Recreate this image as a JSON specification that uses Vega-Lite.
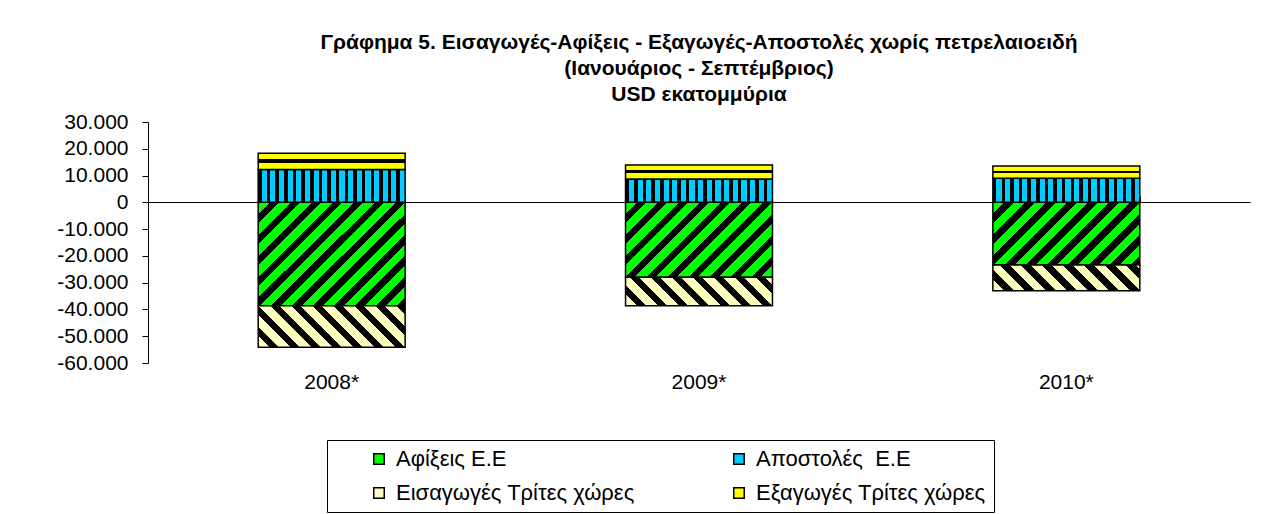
{
  "$schema": "https://vega.github.io/schema/vega-lite/v6.json",
  "autosize": "none",
  "width": 1102,
  "height": 241,
  "padding": {"left": 148, "top": 122, "right": 11, "bottom": 151},
  "background": "white",
  "title": {
    "text": ["Γράφημα 5. Εισαγωγές-Αφίξεις - Εξαγωγές-Αποστολές χωρίς πετρελαιοειδή", "(Ιανουάριος - Σεπτέμβριος)", "USD εκατομμύρια"],
    "font": "Liberation Sans", "fontSize": 21, "fontWeight": "bold", "color": "black",
    "anchor": "middle", "lineHeight": 26, "offset": 6
  },
  "config": {
    "font": "Liberation Sans",
    "view": {"stroke": null},
    "locale": {"number": {"decimal": ",", "thousands": ".", "grouping": [3], "currency": ["", ""], "minus": "-"}},
    "axisY": {"labelFontSize": 21, "labelColor": "black", "labelFont": "Liberation Sans", "tickColor": "black", "domainColor": "black", "tickSize": 6, "labelPadding": 14, "grid": false, "title": null, "format": ",d", "values": [-60000, -50000, -40000, -30000, -20000, -10000, 0, 10000, 20000, 30000]}
  },
  "data": {"values": [
    {"year": "2008*", "series": "Αφίξεις Ε.Ε", "value": -38600},
    {"year": "2008*", "series": "Αποστολές\u00a0 Ε.Ε", "value": 12300},
    {"year": "2008*", "series": "Εισαγωγές Τρίτες χώρες", "value": -15500},
    {"year": "2008*", "series": "Εξαγωγές Τρίτες χώρες", "value": 6000},
    {"year": "2009*", "series": "Αφίξεις Ε.Ε", "value": -28000},
    {"year": "2009*", "series": "Αποστολές\u00a0 Ε.Ε", "value": 8700},
    {"year": "2009*", "series": "Εισαγωγές Τρίτες χώρες", "value": -10600},
    {"year": "2009*", "series": "Εξαγωγές Τρίτες χώρες", "value": 5200},
    {"year": "2010*", "series": "Αφίξεις Ε.Ε", "value": -23400},
    {"year": "2010*", "series": "Αποστολές\u00a0 Ε.Ε", "value": 8950},
    {"year": "2010*", "series": "Εισαγωγές Τρίτες χώρες", "value": -9600},
    {"year": "2010*", "series": "Εξαγωγές Τρίτες χώρες", "value": 4600}
  ]},
  "resolve": {"axis": {"x": "independent"}},
  "layer": [
    {
      "mark": {"type": "bar"},
      "encoding": {
        "x": {"field": "year", "type": "nominal", "scale": {"paddingInner": 0.6, "paddingOuter": 0.3},
              "axis": {"orient": "bottom", "domain": false, "ticks": false, "labelAngle": 0, "labelFontSize": 21, "labelColor": "black", "labelPadding": 8, "title": null}},
        "y": {"field": "value", "type": "quantitative", "stack": "zero", "scale": {"domain": [-60000, 30000], "nice": false}},
        "color": {"field": "series", "type": "nominal",
          "scale": {"domain": ["Αφίξεις Ε.Ε", "Εισαγωγές Τρίτες χώρες", "Αποστολές\u00a0 Ε.Ε", "Εξαγωγές Τρίτες χώρες"], "range": ["#00ff00", "#ffffc0", "#00ccff", "#ffff00"]},
          "legend": {"orient": "none", "legendX": 179, "legendY": 318, "columns": 2, "title": "\u00a0", "titleOrient": "left", "titlePadding": 33, "titleFontSize": 10,
                     "strokeColor": "black", "padding": 8,
                     "labelFontSize": 22, "labelColor": "black", "labelFont": "Liberation Sans", "labelLimit": 500, "labelOffset": 6,
                     "symbolType": "square", "symbolSize": 110, "symbolStrokeColor": "black", "symbolStrokeWidth": 1.5, "symbolOpacity": 1,
                     "rowPadding": 12, "columnPadding": 93}},
        "order": {"field": "series", "sort": "ascending"}
      }
    },
    {
      "mark": {"type": "bar", "stroke": "black", "strokeWidth": 1.5},
      "encoding": {
        "x": {"field": "year", "type": "nominal",
              "axis": {"orient": "top", "offset": -80, "labels": false, "ticks": true, "tickBand": "extent", "tickSize": 6, "tickColor": "black", "domain": true, "domainColor": "black", "title": null}},
        "y": {"field": "value", "type": "quantitative", "stack": "zero"},
        "detail": {"field": "series", "type": "nominal"},
        "order": {"field": "series", "sort": "ascending"},
        "fill": {
          "condition": [
            {"test": "datum.series === 'Αφίξεις Ε.Ε' && datum.year === '2008*'", "value": {"gradient": "linear", "x1": 0, "y1": 0, "x2": 1.3374, "y2": 0.9413, "stops": [
{"offset":0,"color":"#00ff00"},{"offset":0.0393,"color":"#00ff00"},{"offset":0.0393,"color":"#000"},{"offset":0.0714,"color":"#000"},
{"offset":0.0714,"color":"#00ff00"},{"offset":0.1107,"color":"#00ff00"},{"offset":0.1107,"color":"#000"},{"offset":0.1429,"color":"#000"},
{"offset":0.1429,"color":"#00ff00"},{"offset":0.1821,"color":"#00ff00"},{"offset":0.1821,"color":"#000"},{"offset":0.2143,"color":"#000"},
{"offset":0.2143,"color":"#00ff00"},{"offset":0.2536,"color":"#00ff00"},{"offset":0.2536,"color":"#000"},{"offset":0.2857,"color":"#000"},
{"offset":0.2857,"color":"#00ff00"},{"offset":0.325,"color":"#00ff00"},{"offset":0.325,"color":"#000"},{"offset":0.3571,"color":"#000"},
{"offset":0.3571,"color":"#00ff00"},{"offset":0.3964,"color":"#00ff00"},{"offset":0.3964,"color":"#000"},{"offset":0.4286,"color":"#000"},
{"offset":0.4286,"color":"#00ff00"},{"offset":0.4679,"color":"#00ff00"},{"offset":0.4679,"color":"#000"},{"offset":0.5,"color":"#000"},
{"offset":0.5,"color":"#00ff00"},{"offset":0.5393,"color":"#00ff00"},{"offset":0.5393,"color":"#000"},{"offset":0.5714,"color":"#000"},
{"offset":0.5714,"color":"#00ff00"},{"offset":0.6107,"color":"#00ff00"},{"offset":0.6107,"color":"#000"},{"offset":0.6429,"color":"#000"},
{"offset":0.6429,"color":"#00ff00"},{"offset":0.6821,"color":"#00ff00"},{"offset":0.6821,"color":"#000"},{"offset":0.7143,"color":"#000"},
{"offset":0.7143,"color":"#00ff00"},{"offset":0.7536,"color":"#00ff00"},{"offset":0.7536,"color":"#000"},{"offset":0.7857,"color":"#000"},
{"offset":0.7857,"color":"#00ff00"},{"offset":0.825,"color":"#00ff00"},{"offset":0.825,"color":"#000"},{"offset":0.8571,"color":"#000"},
{"offset":0.8571,"color":"#00ff00"},{"offset":0.8964,"color":"#00ff00"},{"offset":0.8964,"color":"#000"},{"offset":0.9286,"color":"#000"},
{"offset":0.9286,"color":"#00ff00"},{"offset":0.9679,"color":"#00ff00"},{"offset":0.9679,"color":"#000"},{"offset":1,"color":"#000"}]}},
            {"test": "datum.series === 'Αφίξεις Ε.Ε' && datum.year === '2009*'", "value": {"gradient": "linear", "x1": 0, "y1": 0, "x2": 1.5865, "y2": 0.81, "stops": [
{"offset":0,"color":"#00ff00"},{"offset":0.0393,"color":"#00ff00"},{"offset":0.0393,"color":"#000"},{"offset":0.0714,"color":"#000"},
{"offset":0.0714,"color":"#00ff00"},{"offset":0.1107,"color":"#00ff00"},{"offset":0.1107,"color":"#000"},{"offset":0.1429,"color":"#000"},
{"offset":0.1429,"color":"#00ff00"},{"offset":0.1821,"color":"#00ff00"},{"offset":0.1821,"color":"#000"},{"offset":0.2143,"color":"#000"},
{"offset":0.2143,"color":"#00ff00"},{"offset":0.2536,"color":"#00ff00"},{"offset":0.2536,"color":"#000"},{"offset":0.2857,"color":"#000"},
{"offset":0.2857,"color":"#00ff00"},{"offset":0.325,"color":"#00ff00"},{"offset":0.325,"color":"#000"},{"offset":0.3571,"color":"#000"},
{"offset":0.3571,"color":"#00ff00"},{"offset":0.3964,"color":"#00ff00"},{"offset":0.3964,"color":"#000"},{"offset":0.4286,"color":"#000"},
{"offset":0.4286,"color":"#00ff00"},{"offset":0.4679,"color":"#00ff00"},{"offset":0.4679,"color":"#000"},{"offset":0.5,"color":"#000"},
{"offset":0.5,"color":"#00ff00"},{"offset":0.5393,"color":"#00ff00"},{"offset":0.5393,"color":"#000"},{"offset":0.5714,"color":"#000"},
{"offset":0.5714,"color":"#00ff00"},{"offset":0.6107,"color":"#00ff00"},{"offset":0.6107,"color":"#000"},{"offset":0.6429,"color":"#000"},
{"offset":0.6429,"color":"#00ff00"},{"offset":0.6821,"color":"#00ff00"},{"offset":0.6821,"color":"#000"},{"offset":0.7143,"color":"#000"},
{"offset":0.7143,"color":"#00ff00"},{"offset":0.7536,"color":"#00ff00"},{"offset":0.7536,"color":"#000"},{"offset":0.7857,"color":"#000"},
{"offset":0.7857,"color":"#00ff00"},{"offset":0.825,"color":"#00ff00"},{"offset":0.825,"color":"#000"},{"offset":0.8571,"color":"#000"},
{"offset":0.8571,"color":"#00ff00"},{"offset":0.8964,"color":"#00ff00"},{"offset":0.8964,"color":"#000"},{"offset":0.9286,"color":"#000"},
{"offset":0.9286,"color":"#00ff00"},{"offset":0.9679,"color":"#00ff00"},{"offset":0.9679,"color":"#000"},{"offset":1,"color":"#000"}]}},
            {"test": "datum.series === 'Αφίξεις Ε.Ε' && datum.year === '2010*'", "value": {"gradient": "linear", "x1": 0, "y1": 0, "x2": 1.6918, "y2": 0.7221, "stops": [
{"offset":0,"color":"#00ff00"},{"offset":0.0393,"color":"#00ff00"},{"offset":0.0393,"color":"#000"},{"offset":0.0714,"color":"#000"},
{"offset":0.0714,"color":"#00ff00"},{"offset":0.1107,"color":"#00ff00"},{"offset":0.1107,"color":"#000"},{"offset":0.1429,"color":"#000"},
{"offset":0.1429,"color":"#00ff00"},{"offset":0.1821,"color":"#00ff00"},{"offset":0.1821,"color":"#000"},{"offset":0.2143,"color":"#000"},
{"offset":0.2143,"color":"#00ff00"},{"offset":0.2536,"color":"#00ff00"},{"offset":0.2536,"color":"#000"},{"offset":0.2857,"color":"#000"},
{"offset":0.2857,"color":"#00ff00"},{"offset":0.325,"color":"#00ff00"},{"offset":0.325,"color":"#000"},{"offset":0.3571,"color":"#000"},
{"offset":0.3571,"color":"#00ff00"},{"offset":0.3964,"color":"#00ff00"},{"offset":0.3964,"color":"#000"},{"offset":0.4286,"color":"#000"},
{"offset":0.4286,"color":"#00ff00"},{"offset":0.4679,"color":"#00ff00"},{"offset":0.4679,"color":"#000"},{"offset":0.5,"color":"#000"},
{"offset":0.5,"color":"#00ff00"},{"offset":0.5393,"color":"#00ff00"},{"offset":0.5393,"color":"#000"},{"offset":0.5714,"color":"#000"},
{"offset":0.5714,"color":"#00ff00"},{"offset":0.6107,"color":"#00ff00"},{"offset":0.6107,"color":"#000"},{"offset":0.6429,"color":"#000"},
{"offset":0.6429,"color":"#00ff00"},{"offset":0.6821,"color":"#00ff00"},{"offset":0.6821,"color":"#000"},{"offset":0.7143,"color":"#000"},
{"offset":0.7143,"color":"#00ff00"},{"offset":0.7536,"color":"#00ff00"},{"offset":0.7536,"color":"#000"},{"offset":0.7857,"color":"#000"},
{"offset":0.7857,"color":"#00ff00"},{"offset":0.825,"color":"#00ff00"},{"offset":0.825,"color":"#000"},{"offset":0.8571,"color":"#000"},
{"offset":0.8571,"color":"#00ff00"},{"offset":0.8964,"color":"#00ff00"},{"offset":0.8964,"color":"#000"},{"offset":0.9286,"color":"#000"},
{"offset":0.9286,"color":"#00ff00"},{"offset":0.9679,"color":"#00ff00"},{"offset":0.9679,"color":"#000"},{"offset":1,"color":"#000"}]}},
            {"test": "datum.series === 'Εισαγωγές Τρίτες χώρες' && datum.year === '2008*'", "value": {"gradient": "linear", "x1": 0, "y1": 1, "x2": 1.8522, "y2": 0.4767, "stops": [
{"offset":0,"color":"#ffffc0"},{"offset":0.0393,"color":"#ffffc0"},{"offset":0.0393,"color":"#000"},{"offset":0.0714,"color":"#000"},
{"offset":0.0714,"color":"#ffffc0"},{"offset":0.1107,"color":"#ffffc0"},{"offset":0.1107,"color":"#000"},{"offset":0.1429,"color":"#000"},
{"offset":0.1429,"color":"#ffffc0"},{"offset":0.1821,"color":"#ffffc0"},{"offset":0.1821,"color":"#000"},{"offset":0.2143,"color":"#000"},
{"offset":0.2143,"color":"#ffffc0"},{"offset":0.2536,"color":"#ffffc0"},{"offset":0.2536,"color":"#000"},{"offset":0.2857,"color":"#000"},
{"offset":0.2857,"color":"#ffffc0"},{"offset":0.325,"color":"#ffffc0"},{"offset":0.325,"color":"#000"},{"offset":0.3571,"color":"#000"},
{"offset":0.3571,"color":"#ffffc0"},{"offset":0.3964,"color":"#ffffc0"},{"offset":0.3964,"color":"#000"},{"offset":0.4286,"color":"#000"},
{"offset":0.4286,"color":"#ffffc0"},{"offset":0.4679,"color":"#ffffc0"},{"offset":0.4679,"color":"#000"},{"offset":0.5,"color":"#000"},
{"offset":0.5,"color":"#ffffc0"},{"offset":0.5393,"color":"#ffffc0"},{"offset":0.5393,"color":"#000"},{"offset":0.5714,"color":"#000"},
{"offset":0.5714,"color":"#ffffc0"},{"offset":0.6107,"color":"#ffffc0"},{"offset":0.6107,"color":"#000"},{"offset":0.6429,"color":"#000"},
{"offset":0.6429,"color":"#ffffc0"},{"offset":0.6821,"color":"#ffffc0"},{"offset":0.6821,"color":"#000"},{"offset":0.7143,"color":"#000"},
{"offset":0.7143,"color":"#ffffc0"},{"offset":0.7536,"color":"#ffffc0"},{"offset":0.7536,"color":"#000"},{"offset":0.7857,"color":"#000"},
{"offset":0.7857,"color":"#ffffc0"},{"offset":0.825,"color":"#ffffc0"},{"offset":0.825,"color":"#000"},{"offset":0.8571,"color":"#000"},
{"offset":0.8571,"color":"#ffffc0"},{"offset":0.8964,"color":"#ffffc0"},{"offset":0.8964,"color":"#000"},{"offset":0.9286,"color":"#000"},
{"offset":0.9286,"color":"#ffffc0"},{"offset":0.9679,"color":"#ffffc0"},{"offset":0.9679,"color":"#000"},{"offset":1,"color":"#000"}]}},
            {"test": "datum.series === 'Εισαγωγές Τρίτες χώρες' && datum.year === '2009*'", "value": {"gradient": "linear", "x1": 0, "y1": 1, "x2": 1.9279, "y2": 0.6273, "stops": [
{"offset":0,"color":"#ffffc0"},{"offset":0.0393,"color":"#ffffc0"},{"offset":0.0393,"color":"#000"},{"offset":0.0714,"color":"#000"},
{"offset":0.0714,"color":"#ffffc0"},{"offset":0.1107,"color":"#ffffc0"},{"offset":0.1107,"color":"#000"},{"offset":0.1429,"color":"#000"},
{"offset":0.1429,"color":"#ffffc0"},{"offset":0.1821,"color":"#ffffc0"},{"offset":0.1821,"color":"#000"},{"offset":0.2143,"color":"#000"},
{"offset":0.2143,"color":"#ffffc0"},{"offset":0.2536,"color":"#ffffc0"},{"offset":0.2536,"color":"#000"},{"offset":0.2857,"color":"#000"},
{"offset":0.2857,"color":"#ffffc0"},{"offset":0.325,"color":"#ffffc0"},{"offset":0.325,"color":"#000"},{"offset":0.3571,"color":"#000"},
{"offset":0.3571,"color":"#ffffc0"},{"offset":0.3964,"color":"#ffffc0"},{"offset":0.3964,"color":"#000"},{"offset":0.4286,"color":"#000"},
{"offset":0.4286,"color":"#ffffc0"},{"offset":0.4679,"color":"#ffffc0"},{"offset":0.4679,"color":"#000"},{"offset":0.5,"color":"#000"},
{"offset":0.5,"color":"#ffffc0"},{"offset":0.5393,"color":"#ffffc0"},{"offset":0.5393,"color":"#000"},{"offset":0.5714,"color":"#000"},
{"offset":0.5714,"color":"#ffffc0"},{"offset":0.6107,"color":"#ffffc0"},{"offset":0.6107,"color":"#000"},{"offset":0.6429,"color":"#000"},
{"offset":0.6429,"color":"#ffffc0"},{"offset":0.6821,"color":"#ffffc0"},{"offset":0.6821,"color":"#000"},{"offset":0.7143,"color":"#000"},
{"offset":0.7143,"color":"#ffffc0"},{"offset":0.7536,"color":"#ffffc0"},{"offset":0.7536,"color":"#000"},{"offset":0.7857,"color":"#000"},
{"offset":0.7857,"color":"#ffffc0"},{"offset":0.825,"color":"#ffffc0"},{"offset":0.825,"color":"#000"},{"offset":0.8571,"color":"#000"},
{"offset":0.8571,"color":"#ffffc0"},{"offset":0.8964,"color":"#ffffc0"},{"offset":0.8964,"color":"#000"},{"offset":0.9286,"color":"#000"},
{"offset":0.9286,"color":"#ffffc0"},{"offset":0.9679,"color":"#ffffc0"},{"offset":0.9679,"color":"#000"},{"offset":1,"color":"#000"}]}},
            {"test": "datum.series === 'Εισαγωγές Τρίτες χώρες' && datum.year === '2010*'", "value": {"gradient": "linear", "x1": 0, "y1": 1, "x2": 1.9406, "y2": 0.6605, "stops": [
{"offset":0,"color":"#ffffc0"},{"offset":0.0393,"color":"#ffffc0"},{"offset":0.0393,"color":"#000"},{"offset":0.0714,"color":"#000"},
{"offset":0.0714,"color":"#ffffc0"},{"offset":0.1107,"color":"#ffffc0"},{"offset":0.1107,"color":"#000"},{"offset":0.1429,"color":"#000"},
{"offset":0.1429,"color":"#ffffc0"},{"offset":0.1821,"color":"#ffffc0"},{"offset":0.1821,"color":"#000"},{"offset":0.2143,"color":"#000"},
{"offset":0.2143,"color":"#ffffc0"},{"offset":0.2536,"color":"#ffffc0"},{"offset":0.2536,"color":"#000"},{"offset":0.2857,"color":"#000"},
{"offset":0.2857,"color":"#ffffc0"},{"offset":0.325,"color":"#ffffc0"},{"offset":0.325,"color":"#000"},{"offset":0.3571,"color":"#000"},
{"offset":0.3571,"color":"#ffffc0"},{"offset":0.3964,"color":"#ffffc0"},{"offset":0.3964,"color":"#000"},{"offset":0.4286,"color":"#000"},
{"offset":0.4286,"color":"#ffffc0"},{"offset":0.4679,"color":"#ffffc0"},{"offset":0.4679,"color":"#000"},{"offset":0.5,"color":"#000"},
{"offset":0.5,"color":"#ffffc0"},{"offset":0.5393,"color":"#ffffc0"},{"offset":0.5393,"color":"#000"},{"offset":0.5714,"color":"#000"},
{"offset":0.5714,"color":"#ffffc0"},{"offset":0.6107,"color":"#ffffc0"},{"offset":0.6107,"color":"#000"},{"offset":0.6429,"color":"#000"},
{"offset":0.6429,"color":"#ffffc0"},{"offset":0.6821,"color":"#ffffc0"},{"offset":0.6821,"color":"#000"},{"offset":0.7143,"color":"#000"},
{"offset":0.7143,"color":"#ffffc0"},{"offset":0.7536,"color":"#ffffc0"},{"offset":0.7536,"color":"#000"},{"offset":0.7857,"color":"#000"},
{"offset":0.7857,"color":"#ffffc0"},{"offset":0.825,"color":"#ffffc0"},{"offset":0.825,"color":"#000"},{"offset":0.8571,"color":"#000"},
{"offset":0.8571,"color":"#ffffc0"},{"offset":0.8964,"color":"#ffffc0"},{"offset":0.8964,"color":"#000"},{"offset":0.9286,"color":"#000"},
{"offset":0.9286,"color":"#ffffc0"},{"offset":0.9679,"color":"#ffffc0"},{"offset":0.9679,"color":"#000"},{"offset":1,"color":"#000"}]}},
            {"test": "datum.series === 'Αποστολές\u00a0 Ε.Ε'", "value": {"gradient": "linear", "x1": 0, "y1": 0, "x2": 1, "y2": 0, "stops": [
{"offset":0,"color":"#000"},{"offset":0.0235,"color":"#000"},{"offset":0.0235,"color":"#00ccff"},{"offset":0.0588,"color":"#00ccff"},
{"offset":0.0588,"color":"#000"},{"offset":0.0824,"color":"#000"},{"offset":0.0824,"color":"#00ccff"},{"offset":0.1176,"color":"#00ccff"},
{"offset":0.1176,"color":"#000"},{"offset":0.1412,"color":"#000"},{"offset":0.1412,"color":"#00ccff"},{"offset":0.1765,"color":"#00ccff"},
{"offset":0.1765,"color":"#000"},{"offset":0.2,"color":"#000"},{"offset":0.2,"color":"#00ccff"},{"offset":0.2353,"color":"#00ccff"},
{"offset":0.2353,"color":"#000"},{"offset":0.2588,"color":"#000"},{"offset":0.2588,"color":"#00ccff"},{"offset":0.2941,"color":"#00ccff"},
{"offset":0.2941,"color":"#000"},{"offset":0.3176,"color":"#000"},{"offset":0.3176,"color":"#00ccff"},{"offset":0.3529,"color":"#00ccff"},
{"offset":0.3529,"color":"#000"},{"offset":0.3765,"color":"#000"},{"offset":0.3765,"color":"#00ccff"},{"offset":0.4118,"color":"#00ccff"},
{"offset":0.4118,"color":"#000"},{"offset":0.4353,"color":"#000"},{"offset":0.4353,"color":"#00ccff"},{"offset":0.4706,"color":"#00ccff"},
{"offset":0.4706,"color":"#000"},{"offset":0.4941,"color":"#000"},{"offset":0.4941,"color":"#00ccff"},{"offset":0.5294,"color":"#00ccff"},
{"offset":0.5294,"color":"#000"},{"offset":0.5529,"color":"#000"},{"offset":0.5529,"color":"#00ccff"},{"offset":0.5882,"color":"#00ccff"},
{"offset":0.5882,"color":"#000"},{"offset":0.6118,"color":"#000"},{"offset":0.6118,"color":"#00ccff"},{"offset":0.6471,"color":"#00ccff"},
{"offset":0.6471,"color":"#000"},{"offset":0.6706,"color":"#000"},{"offset":0.6706,"color":"#00ccff"},{"offset":0.7059,"color":"#00ccff"},
{"offset":0.7059,"color":"#000"},{"offset":0.7294,"color":"#000"},{"offset":0.7294,"color":"#00ccff"},{"offset":0.7647,"color":"#00ccff"},
{"offset":0.7647,"color":"#000"},{"offset":0.7882,"color":"#000"},{"offset":0.7882,"color":"#00ccff"},{"offset":0.8235,"color":"#00ccff"},
{"offset":0.8235,"color":"#000"},{"offset":0.8471,"color":"#000"},{"offset":0.8471,"color":"#00ccff"},{"offset":0.8824,"color":"#00ccff"},
{"offset":0.8824,"color":"#000"},{"offset":0.9059,"color":"#000"},{"offset":0.9059,"color":"#00ccff"},{"offset":0.9412,"color":"#00ccff"},
{"offset":0.9412,"color":"#000"},{"offset":0.9647,"color":"#000"},{"offset":0.9647,"color":"#00ccff"},{"offset":1,"color":"#00ccff"}]}}
          ],
          "value": {"gradient": "linear", "x1": 0, "y1": 0, "x2": 0, "y2": 1, "stops": [
            {"offset":0,"color":"#ffff00"},{"offset":0.38,"color":"#ffff00"},{"offset":0.38,"color":"#000"},{"offset":0.58,"color":"#000"},{"offset":0.58,"color":"#ffff00"},{"offset":1,"color":"#ffff00"}]}
        }
      }
    }
  ]
}
